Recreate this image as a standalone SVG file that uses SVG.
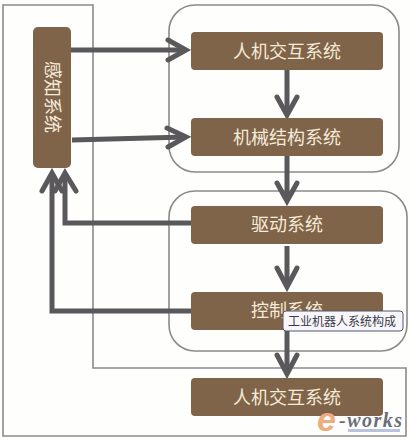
<svg xmlns="http://www.w3.org/2000/svg" width="412" height="440" viewBox="0 0 412 440">
<style>
.frame{fill:none;stroke:#8a8a8a;stroke-width:1.6}
.node{fill:#7f6449}
.lbl{font-family:"Noto Sans CJK SC","Liberation Sans",sans-serif;font-size:18px;fill:#f6ead9;text-anchor:middle}
.conn{fill:none;stroke:#5a585a;stroke-width:5}
.head{fill:none;stroke:#5a585a;stroke-width:5;stroke-linecap:round;stroke-linejoin:miter}
</style>
<rect width="412" height="440" fill="#fefefd"/>
<g id="frames">
<path class="frame" d="M93 368V5H3V436H406V368Z"/>
<rect class="frame" x="169" y="5" width="230" height="167" rx="26"/>
<rect class="frame" x="169" y="191" width="238" height="160" rx="26"/>
</g>
<g id="connectors">
<path class="conn" d="M71 50H186"/><path class="head" d="M168 40L186 50L168 60"/>
<path class="conn" d="M72 140L186 137"/><path class="head" d="M167 128L186 137L168 147"/>
<path class="conn" d="M287 70V115"/><path class="head" d="M277 97L287 115L297 97"/>
<path class="conn" d="M287 156V201"/><path class="head" d="M277 183L287 201L297 183"/>
<path class="conn" d="M287 246V287"/><path class="head" d="M277 268L287 287L297 268"/>
<path class="conn" d="M287 330V374"/><path class="head" d="M277 355L287 374L297 355"/>
<path class="conn" d="M191 311H52V173"/><path class="head" d="M42 191L52 173L62 191"/>
<path class="conn" d="M191 223H65V173"/><path class="head" d="M55 191L65 173L76 191"/>
</g>
<g id="sense"><rect class="node" x="33" y="27" width="38" height="141" rx="5"/>
<text class="lbl" transform="translate(52 97) rotate(90)" y="6">感知系统</text></g>
<g id="n1"><rect class="node" x="191" y="32" width="192" height="38" rx="4"/><text class="lbl" x="287" y="58">人机交互系统</text></g>
<g id="n2"><rect class="node" x="191" y="118" width="192" height="38" rx="4"/><text class="lbl" x="287" y="144">机械结构系统</text></g>
<g id="n3"><rect class="node" x="191" y="206" width="192" height="38" rx="4"/><text class="lbl" x="287" y="231">驱动系统</text></g>
<g id="n4"><rect class="node" x="191" y="292" width="192" height="38" rx="4"/><text class="lbl" x="287" y="317">控制系统</text></g>
<g id="n5"><rect class="node" x="191" y="378" width="192" height="38" rx="4"/><text class="lbl" x="287" y="404">人机交互系统</text></g>
<g id="tooltip"><rect x="283" y="311" width="120" height="20" rx="3" fill="#f6f6fb" stroke="#55556a"/>
<text x="342" y="326" font-family="'Noto Sans CJK SC','Liberation Sans',sans-serif" font-size="12" fill="#3a3a44" text-anchor="middle">工业机器人系统构成</text></g>
<g id="logo">
<rect x="348" y="429" width="52" height="3" fill="#b9c3dc"/>
<text x="317" y="431" font-family="'Liberation Sans',sans-serif" font-size="34" font-style="italic" font-weight="bold" fill="#ecae80">e</text>
<text x="339" y="427" font-family="'Liberation Serif',serif" font-size="20" font-style="italic" font-weight="bold" fill="#6b6e78" textLength="63">-works</text>
</g>
</svg>
